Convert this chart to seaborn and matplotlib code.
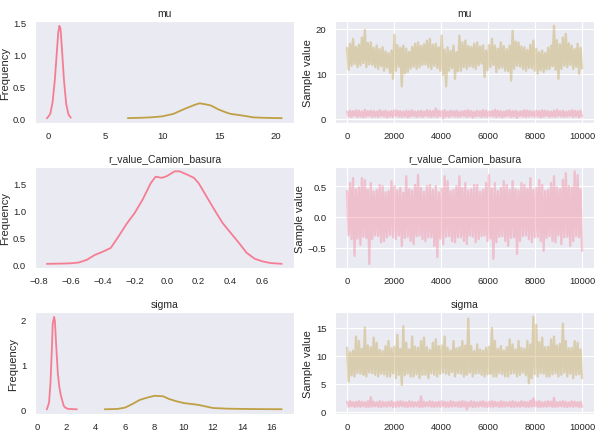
import numpy as np
import matplotlib
matplotlib.use('Agg')
import matplotlib.pyplot as plt
from matplotlib.ticker import MultipleLocator
import seaborn as sns

# ---- data ----
var_names = ['mu', 'r_value_Camion_basura', 'sigma']
n_samples = 10000

# posterior densities (x, density) per chain
mu_kde_c0_x = [-0.1, 0.0, 0.2, 0.4, 0.6, 0.8, 0.9, 1.0, 1.1, 1.2, 1.4, 1.6, 1.8, 2.0]
mu_kde_c0_y = [0.0, 0.02, 0.07, 0.25, 0.6, 1.1, 1.35, 1.45, 1.4, 1.15, 0.6, 0.22, 0.06, 0.01]
mu_kde_c1_x = [7.0, 8.0, 9.0, 10.0, 11.0, 11.5, 12.0, 12.5, 13.0, 13.3, 13.8, 14.3,
               15.0, 15.5, 16.0, 17.0, 18.0, 19.0, 20.0, 20.5]
mu_kde_c1_y = [0.003, 0.008, 0.015, 0.03, 0.07, 0.11, 0.15, 0.185, 0.22, 0.235, 0.22, 0.2,
               0.135, 0.1, 0.07, 0.045, 0.015, 0.008, 0.004, 0.003]

r_kde_x = [-0.75, -0.65, -0.6, -0.55, -0.5, -0.45, -0.4, -0.35, -0.3, -0.25, -0.2, -0.15,
           -0.1, -0.07, -0.03, 0.0, 0.05, 0.08, 0.12, 0.17, 0.2, 0.25, 0.3, 0.35, 0.4,
           0.45, 0.5, 0.55, 0.6, 0.65, 0.72]
r_kde_y = [0.005, 0.01, 0.015, 0.03, 0.08, 0.17, 0.23, 0.3, 0.52, 0.75, 0.95, 1.2,
           1.5, 1.62, 1.6, 1.63, 1.72, 1.72, 1.67, 1.6, 1.5, 1.25, 1.0, 0.76, 0.58,
           0.4, 0.21, 0.1, 0.05, 0.02, 0.005]

sigma_kde_c0_x = [0.65, 0.8, 0.9, 1.0, 1.05, 1.1, 1.15, 1.2, 1.3, 1.4, 1.5, 1.6, 1.7,
                  1.8, 1.9, 2.1, 2.7]
sigma_kde_c0_y = [0.0, 0.15, 0.6, 1.4, 1.9, 1.98, 2.05, 1.95, 1.35, 0.8, 0.5, 0.32, 0.2,
                  0.08, 0.04, 0.01, 0.002]
sigma_kde_c1_x = [4.6, 5.0, 5.5, 6.0, 6.5, 7.0, 7.5, 8.0, 8.6, 9.0, 9.5, 10.0, 11.0,
                  12.0, 13.0, 14.0, 15.0, 16.7]
sigma_kde_c1_y = [0.002, 0.005, 0.01, 0.04, 0.12, 0.21, 0.26, 0.3, 0.29, 0.23, 0.18,
                  0.14, 0.1, 0.03, 0.015, 0.01, 0.006, 0.003]

# traces: high / low extremes of each block of 125 draws
mu_tr_c0_hi = [1.6, 1.8, 1.7, 1.9, 1.8, 1.6, 2.0, 1.7, 1.8, 1.7, 1.6, 1.9, 1.7, 1.8, 1.6, 1.7,
               1.9, 1.8, 1.7, 1.6, 1.8, 1.7, 1.9, 1.6, 1.7, 1.8, 1.6, 1.9, 1.8, 1.7, 2.3, 1.8,
               1.7, 1.9, 1.6, 1.8, 1.7, 1.8, 1.6, 1.7, 1.8, 1.9, 1.7, 1.6, 1.8, 1.7, 1.9, 1.8,
               1.6, 1.7, 2.0, 1.8, 1.7, 1.6, 1.8, 1.9, 1.7, 1.8, 1.6, 1.7, 1.9, 1.8, 1.7, 1.6,
               1.8, 1.7, 1.9, 1.8, 1.7, 1.6, 1.8, 2.0, 1.7, 1.8, 1.6, 1.7, 1.9, 1.8, 1.7, 1.8]
mu_tr_c0_lo = [0.5, 0.4, 0.6, 0.4, 0.5, 0.3, 0.5, 0.6, 0.4, 0.5, 0.4, 0.6, 0.5, 0.3, 0.5, 0.4,
               0.6, 0.5, 0.4, 0.5, 0.3, 0.5, 0.6, 0.4, 0.5, 0.4, 0.6, 0.5, 0.4, 0.5, 0.4, 0.6,
               0.1, 0.5, 0.4, 0.6, 0.5, 0.4, 0.5, 0.6, 0.4, 0.5, 0.3, 0.5, 0.6, 0.4, 0.5, 0.4,
               0.6, 0.5, 0.4, 0.5, 0.3, 0.5, 0.6, 0.4, 0.5, 0.2, 0.6, 0.5, 0.4, 0.5, 0.6, 0.4,
               0.5, 0.3, 0.5, 0.6, 0.4, 0.5, 0.4, 0.6, 0.5, 0.4, 0.5, 0.6, 0.4, 0.5, 0.3, 0.5]
mu_tr_c1_hi = [15.8, 16.7, 17.8, 16.0, 16.5, 18.1, 19.8, 16.9, 17.0, 15.8, 16.3, 15.5,
               15.9, 15.0, 14.6, 15.2, 18.7, 16.4, 15.8, 16.3, 15.6, 14.9, 16.0, 16.7,
               17.0, 16.2, 16.6, 17.4, 17.8, 16.5, 16.7, 15.9, 18.5, 15.4, 15.9, 15.1,
               16.3, 14.8, 18.5, 17.0, 17.4, 16.2, 16.0, 16.7, 17.0, 16.1, 16.3, 15.2,
               16.4, 17.8, 16.3, 15.6, 17.0, 16.2, 15.5, 16.3, 19.6, 17.2, 17.0, 16.1,
               15.9, 15.3, 16.5, 17.4, 15.6, 14.8, 15.2, 14.6, 15.8, 16.3, 20.7, 17.5,
               16.6, 18.1, 18.9, 16.8, 16.3, 15.5, 16.7, 15.8]
mu_tr_c1_lo = [10.9, 11.8, 12.2, 11.5, 11.9, 12.4, 11.5, 12.1, 12.0, 11.5, 11.1, 11.7,
               10.7, 11.4, 10.2, 8.9, 10.7, 11.6, 7.2, 10.1, 10.4, 11.2, 11.6, 11.1,
               11.5, 12.0, 12.1, 11.5, 11.1, 11.8, 11.3, 10.7, 9.8, 7.2, 10.7, 11.3,
               8.9, 10.6, 10.7, 11.5, 11.1, 11.7, 11.5, 11.1, 11.9, 12.3, 9.3, 10.8,
               11.5, 12.0, 10.4, 11.2, 11.4, 10.7, 10.6, 8.5, 11.1, 11.8, 11.6, 11.1,
               10.7, 11.3, 11.2, 10.7, 10.0, 10.8, 10.4, 11.0, 11.1, 11.7, 10.9, 8.9,
               11.1, 11.8, 11.5, 12.0, 11.1, 11.6, 10.0, 11.2]

r_tr_hi = [0.42, 0.55, 0.63, 0.45, 0.48, 0.63, 0.60, 0.44, 0.55, 0.41, 0.44, 0.52,
           0.50, 0.40, 0.42, 0.58, 0.50, 0.43, 0.47, 0.39, 0.66, 0.45, 0.43, 0.52,
           0.68, 0.47, 0.41, 0.50, 0.52, 0.44, 0.50, 0.40, 0.46, 0.66, 0.58, 0.42,
           0.44, 0.50, 0.66, 0.47, 0.55, 0.43, 0.45, 0.52, 0.52, 0.41, 0.44, 0.55,
           0.68, 0.46, 0.55, 0.42, 0.47, 0.58, 0.52, 0.44, 0.58, 0.45, 0.43, 0.55,
           0.52, 0.46, 0.63, 0.44, 0.47, 0.60, 0.52, 0.42, 0.44, 0.55, 0.66, 0.48,
           0.45, 0.60, 0.71, 0.50, 0.48, 0.74, 0.68, 0.45]
r_tr_lo = [-0.30, -0.36, -0.63, -0.35, -0.45, -0.32, -0.34, -0.76, -0.36, -0.30,
           -0.31, -0.41, -0.39, -0.33, -0.29, -0.33, -0.36, -0.30, -0.47, -0.34,
           -0.32, -0.39, -0.44, -0.31, -0.30, -0.36, -0.39, -0.33, -0.33, -0.47,
           -0.65, -0.35, -0.44, -0.32, -0.31, -0.39, -0.41, -0.33, -0.33, -0.39,
           -0.44, -0.30, -0.32, -0.41, -0.36, -0.31, -0.30, -0.39, -0.35, -0.68,
           -0.41, -0.32, -0.31, -0.39, -0.47, -0.34, -0.33, -0.60, -0.39, -0.31,
           -0.30, -0.36, -0.41, -0.33, -0.32, -0.39, -0.55, -0.34, -0.31, -0.39,
           -0.41, -0.30, -0.44, -0.33, -0.32, -0.47, -0.39, -0.31, -0.33, -0.55]

sigma_tr_c0_hi = [1.8, 1.9, 1.7, 1.8, 1.9, 1.8, 1.7, 1.9, 2.6, 1.8, 1.7, 1.9, 1.8, 1.7, 1.8, 1.9,
                  1.7, 1.8, 1.9, 1.8, 1.7, 1.9, 1.8, 1.7, 1.8, 2.75, 1.8, 1.7, 1.9, 1.8, 1.7, 1.8,
                  1.9, 1.8, 1.7, 1.9, 1.8, 1.7, 1.8, 1.9, 1.8, 1.7, 1.9, 1.8, 1.7, 1.8, 1.9, 1.7,
                  1.8, 1.9, 1.8, 1.7, 1.9, 1.8, 1.7, 1.8, 1.9, 1.8, 1.7, 1.9, 1.8, 1.7, 2.0, 2.4,
                  1.8, 1.9, 1.7, 1.8, 1.9, 1.8, 2.5, 1.7, 1.8, 1.9, 1.8, 1.7, 1.9, 1.8, 1.7, 1.8]
sigma_tr_c0_lo = [0.9, 1.0, 0.85, 0.95, 0.9, 1.0, 0.85, 0.9, 0.95, 1.0, 0.9, 0.85, 0.95, 0.9,
                  1.0, 0.85, 0.9, 0.95, 1.0, 0.9, 0.85, 0.95, 0.9, 1.0, 0.85, 0.9, 0.95, 1.0,
                  0.9, 0.85, 0.95, 0.9, 1.0, 0.85, 0.9, 0.95, 1.0, 0.9, 0.85, 0.95, 0.45, 1.0,
                  0.85, 0.9, 0.95, 1.0, 0.9, 0.85, 0.95, 0.9, 1.0, 0.85, 0.9, 0.95, 1.0, 0.9,
                  0.85, 0.95, 0.9, 1.0, 0.85, 0.9, 0.95, 1.0, 0.9, 0.85, 0.95, 0.9, 1.0, 0.85,
                  0.9, 0.95, 1.0, 0.9, 0.85, 0.95, 0.9, 1.0, 0.85, 0.9]
sigma_tr_c1_hi = [11.4, 10.6, 10.9, 13.4, 12.6, 11.2, 15.0, 11.8, 11.5, 13.2, 12.3, 11.0,
                  10.8, 11.7, 12.6, 11.3, 11.6, 13.7, 11.2, 15.2, 12.3, 11.1, 13.4, 11.6,
                  11.4, 12.6, 13.2, 11.5, 11.0, 12.3, 12.9, 11.7, 11.8, 13.4, 11.4, 10.9,
                  12.6, 11.3, 11.5, 12.6, 11.8, 16.6, 11.7, 10.8, 12.0, 11.1, 10.9, 11.4,
                  11.6, 14.9, 12.6, 11.2, 11.7, 10.9, 11.5, 12.9, 12.0, 11.1, 12.6, 11.4,
                  11.2, 12.6, 12.0, 16.9, 15.5, 12.4, 13.2, 11.5, 11.6, 12.9, 13.4, 11.8,
                  12.1, 15.7, 12.6, 11.3, 11.4, 12.6, 12.3, 11.1]
sigma_tr_c1_lo = [5.4, 6.5, 6.3, 6.9, 6.8, 6.6, 6.3, 7.0, 6.9, 6.6, 6.3, 6.8, 6.7, 6.3,
                  6.3, 6.9, 6.0, 6.6, 4.8, 6.5, 6.8, 6.3, 6.3, 6.7, 6.0, 6.6, 6.6, 6.0,
                  6.9, 6.6, 6.3, 6.8, 7.0, 6.8, 6.6, 7.1, 6.3, 6.9, 6.8, 6.3, 6.6, 7.0,
                  6.3, 6.8, 6.9, 6.6, 6.3, 6.7, 6.8, 6.3, 6.3, 6.9, 6.7, 6.3, 6.3, 6.8,
                  6.9, 6.3, 6.6, 7.0, 6.5, 5.1, 6.0, 6.7, 6.3, 6.9, 6.8, 6.3, 6.3, 6.7,
                  6.9, 6.3, 6.6, 7.0, 6.3, 6.8, 6.0, 6.6, 6.7, 6.0]

kde_data = [
    [(mu_kde_c0_x, mu_kde_c0_y), (mu_kde_c1_x, mu_kde_c1_y)],
    [(r_kde_x, r_kde_y)],
    [(sigma_kde_c0_x, sigma_kde_c0_y), (sigma_kde_c1_x, sigma_kde_c1_y)],
]
trace_data = [
    [(mu_tr_c0_hi, mu_tr_c0_lo), (mu_tr_c1_hi, mu_tr_c1_lo)],
    [(r_tr_hi, r_tr_lo)],
    [(sigma_tr_c0_hi, sigma_tr_c0_lo), (sigma_tr_c1_hi, sigma_tr_c1_lo)],
]

# ---- plotting ----
sns.set_style('darkgrid')
plt.rcParams['font.family'] = ['Liberation Sans', 'DejaVu Sans']
colors = sns.color_palette('husl', 6)

fig, axes = plt.subplots(3, 2, figsize=(5.95, 4.35), dpi=100)
fig.subplots_adjust(left=0.059, right=0.998, top=0.949, bottom=0.046,
                    hspace=0.43, wspace=0.162)

left_steps = [(5, 0.5), (0.2, 0.5), (2, 1)]
right_ysteps = [10, 0.5, 5]

for i, name in enumerate(var_names):
    ax_kde, ax_tr = axes[i]

    for j, (x, y) in enumerate(kde_data[i]):
        sns.lineplot(x=x, y=y, ax=ax_kde, color=colors[j], lw=1.3, alpha=0.9)
    ax_kde.grid(False)
    ax_kde.set_title(name, fontsize=7.5, pad=4)
    ax_kde.set_ylabel('Frequency', fontsize=8, labelpad=2)
    ax_kde.xaxis.set_major_locator(MultipleLocator(left_steps[i][0]))
    ax_kde.yaxis.set_major_locator(MultipleLocator(left_steps[i][1]))

    for j, (hi, lo) in enumerate(trace_data[i]):
        vals = np.column_stack([hi, lo]).ravel()
        draws = np.linspace(0, n_samples, len(vals))
        ax_tr.plot(draws, vals, color=colors[j], lw=1.7, alpha=0.35)
    ax_tr.set_title(name, fontsize=7.5, pad=4)
    ax_tr.set_ylabel('Sample value', fontsize=8, labelpad=2)
    ax_tr.xaxis.set_major_locator(MultipleLocator(2000))
    ax_tr.yaxis.set_major_locator(MultipleLocator(right_ysteps[i]))

    for ax in (ax_kde, ax_tr):
        ax.tick_params(labelsize=6.8, pad=3)
        ax.tick_params(axis='x', pad=2)

fig.savefig('out.png', dpi=100)
